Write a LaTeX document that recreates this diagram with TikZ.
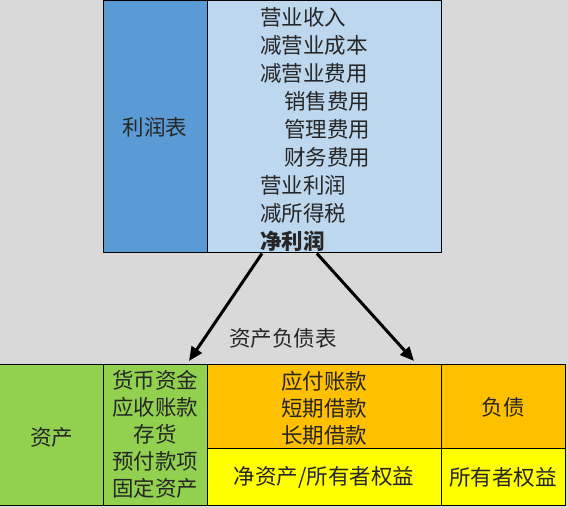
\documentclass[tikz,border=0pt]{standalone}
\usepackage{fontspec}
\setmainfont{Noto Sans CJK SC}
\usetikzlibrary{arrows.meta}

\definecolor{sheetgray}{HTML}{D9D9D9}
\definecolor{darkblue}{HTML}{5B9BD5}
\definecolor{lightblue}{HTML}{BDD7EE}
\definecolor{leafgreen}{HTML}{92D050}
\definecolor{amber}{HTML}{FFC000}
\definecolor{lemon}{HTML}{FFFF00}

\begin{document}
\begin{tikzpicture}[x=1pt,y=1pt,
	cell/.style={draw=black, line width=0.9pt},
	txt/.style={font=\fontsize{21.5}{27}\selectfont, inner sep=0pt, text=black!85},
	flow/.style={line width=3pt, -{Triangle[length=14pt,width=12pt]}}]
	\useasboundingbox (0,0) rectangle (568,508);
	\clip (0,0) rectangle (568,508);
	\fill [sheetgray] (0,0) rectangle (568,508);
	% income statement
	\draw [cell, fill = darkblue] (103,256) rectangle (207,507.5);
	\draw [cell, fill = lightblue] (207,256) rectangle (441,507.5);
	\node [txt] (lrb) at (155,381) {利润表};
	\foreach \x/\t [count=\i] in {260/营业收入,260/减营业成本,260/减营业费用,284/销售费用,284/管理费用,284/财务费用,260/营业利润,260/减所得税}{
		\node [txt, anchor = west] (row\i) at (\x,508-17-28*\i+28) {\t};
	}
	\node [txt, anchor = west, font=\fontsize{21.5}{27}\selectfont\bfseries] (jlr) at (260,508-241) {净利润};
	% balance sheet
	\draw [cell, fill = leafgreen] (-2,3) rectangle (103,144);
	\draw [cell, fill = leafgreen] (103,3) rectangle (207,144);
	\draw [cell, fill = amber] (207,60) rectangle (441,144);
	\draw [cell, fill = amber] (441,60) rectangle (565,144);
	\draw [cell, fill = lemon] (207,3) rectangle (441,60);
	\draw [cell, fill = lemon] (441,3) rectangle (565,60);
	\node [txt] (zc) at (52,71) {资产};
	\node [txt, align = center] (zclist) at (155,73.5) {货币资金\\应收账款\\存货\\预付款项\\固定资产};
	\node [txt, align = center] (fzlist) at (324,100) {应付账款\\短期借款\\长期借款};
	\node [txt] (fz) at (503,101) {负债};
	\node [txt] (jzc) at (324,31) {净资产/所有者权益};
	\node [txt] (syz) at (503,31) {所有者权益};
	\node [txt] (zcfzb) at (283,170) {资产负债表};
	% arrows
	\coordinate (left end) at (189,147);
	\coordinate (right end) at (414,147);
	\draw [flow] ([xshift=2pt,yshift=-2pt]jlr.south west) -- (left end);
	\draw [flow] ([xshift=-8pt,yshift=-2pt]jlr.south east) -- (right end);
\end{tikzpicture}
\end{document}
